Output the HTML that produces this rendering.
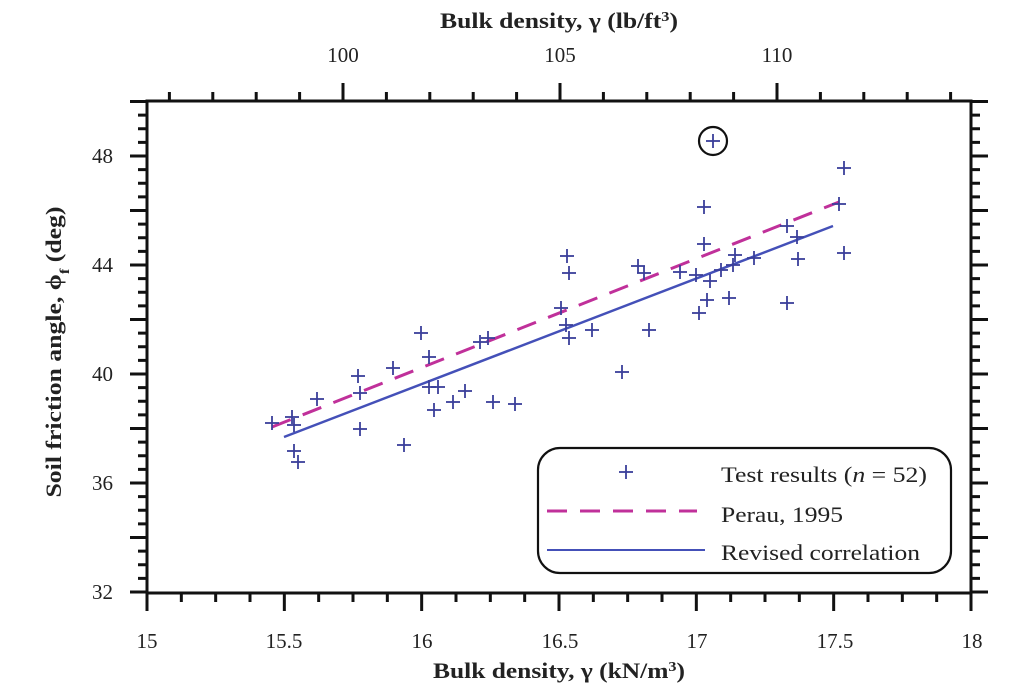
<!DOCTYPE html>
<html><head><meta charset="utf-8"><style>
html,body{margin:0;padding:0;background:#fff;}
svg{display:block;}
text{font-family:"Liberation Serif",serif;fill:#222;}
</style></head><body>
<svg width="1024" height="689" viewBox="0 0 1024 689" xmlns="http://www.w3.org/2000/svg">
<g id="ticks" stroke="#111" stroke-width="3"></g>
<rect x="147" y="101" width="824" height="492" fill="none" stroke="#111" stroke-width="3"/>
<line x1="272" y1="427" x2="839" y2="202" stroke="#c0309a" stroke-width="3" stroke-dasharray="20 13"/>
<line x1="284" y1="437" x2="833" y2="226" stroke="#4450b8" stroke-width="2.5"/>
<g id="pts" stroke="#3a3f9a" stroke-width="1.8"></g>
<circle cx="713" cy="141" r="14" fill="none" stroke="#111" stroke-width="2.2"/>
<rect x="538" y="448" width="413" height="125" rx="22" fill="#fff" stroke="#111" stroke-width="2.2"/>
<g stroke="#3a3f9a" stroke-width="1.8"><line x1="619" y1="472" x2="633" y2="472"/><line x1="626" y1="465" x2="626" y2="479"/></g>
<line x1="547" y1="511" x2="697" y2="511" stroke="#c0309a" stroke-width="3" stroke-dasharray="20 13"/>
<line x1="547" y1="550" x2="705" y2="550" stroke="#4450b8" stroke-width="2"/>
<text x="721" y="482" font-size="22" textLength="206" lengthAdjust="spacingAndGlyphs">Test results (<tspan font-style="italic">n</tspan> = 52)</text>
<text x="721" y="522" font-size="22" textLength="122" lengthAdjust="spacingAndGlyphs">Perau, 1995</text>
<text x="721" y="560" font-size="22" textLength="199" lengthAdjust="spacingAndGlyphs">Revised correlation</text>
<g font-size="21" text-anchor="middle">
<text x="147" y="648">15</text><text x="284" y="648">15.5</text><text x="422" y="648">16</text><text x="560" y="648">16.5</text><text x="697" y="648">17</text><text x="835" y="648">17.5</text><text x="972" y="648">18</text>
<text x="343" y="62">100</text><text x="560" y="62">105</text><text x="777" y="62">110</text>
</g>
<g font-size="21" text-anchor="end">
<text x="113" y="163">48</text><text x="113" y="272">44</text><text x="113" y="381">40</text><text x="113" y="490">36</text><text x="113" y="599">32</text>
</g>
<text x="559" y="28" font-size="22" font-weight="bold" text-anchor="middle" textLength="238" lengthAdjust="spacingAndGlyphs">Bulk density, γ (lb/ft<tspan baseline-shift="super" font-size="14">3</tspan>)</text>
<text x="559" y="678" font-size="22" font-weight="bold" text-anchor="middle" textLength="252" lengthAdjust="spacingAndGlyphs">Bulk density, γ (kN/m<tspan baseline-shift="super" font-size="14">3</tspan>)</text>
<text transform="translate(61,352) rotate(-90)" font-size="22" font-weight="bold" text-anchor="middle" textLength="291" lengthAdjust="spacingAndGlyphs">Soil friction angle, ϕ<tspan baseline-shift="sub" font-size="14">f</tspan> (deg)</text>
</svg>
<script>
var NS="http://www.w3.org/2000/svg";
function L(g,x1,y1,x2,y2){var l=document.createElementNS(NS,"line");l.setAttribute("x1",x1);l.setAttribute("y1",y1);l.setAttribute("x2",x2);l.setAttribute("y2",y2);g.appendChild(l);}
var t=document.getElementById("ticks");
for(var i=0;i<=24;i++){var x=147+i*824/24;var maj=i%4==0;L(t,x,593,x,maj?611:602);}
for(var i=0;i<=36;i++){var y=592-i*13.625;var maj=i%4==0;L(t,147,y,maj?130:138,y);L(t,971,y,maj?988:980,y);}
for(var v=96;v<=114;v++){var x=343+(v-100)*43.4;var maj=v%5==0;L(t,x,101,x,maj?83:92);}
var p=[[272,423],[292,417],[294,425],[317,399],[360,393],[360,429],[294,451],[298,462],[404,445],[429,387],[438,387],[434,410],[453,402],[465,391],[493,402],[515,404],[567,256],[569,273],[561,308],[566,325],[569,338],[421,333],[429,357],[393,368],[358,376],[480,342],[488,338],[713,141],[844,168],[839,204],[844,253],[704,207],[704,244],[787,226],[797,237],[798,259],[787,303],[735,255],[754,258],[733,265],[721,270],[696,275],[710,281],[707,300],[729,298],[699,313],[680,272],[638,266],[644,273],[592,330],[649,330],[622,372]];
var g=document.getElementById("pts");
p.forEach(function(q){L(g,q[0]-7,q[1],q[0]+7,q[1]);L(g,q[0],q[1]-7,q[0],q[1]+7);});
</script>
</body></html>
